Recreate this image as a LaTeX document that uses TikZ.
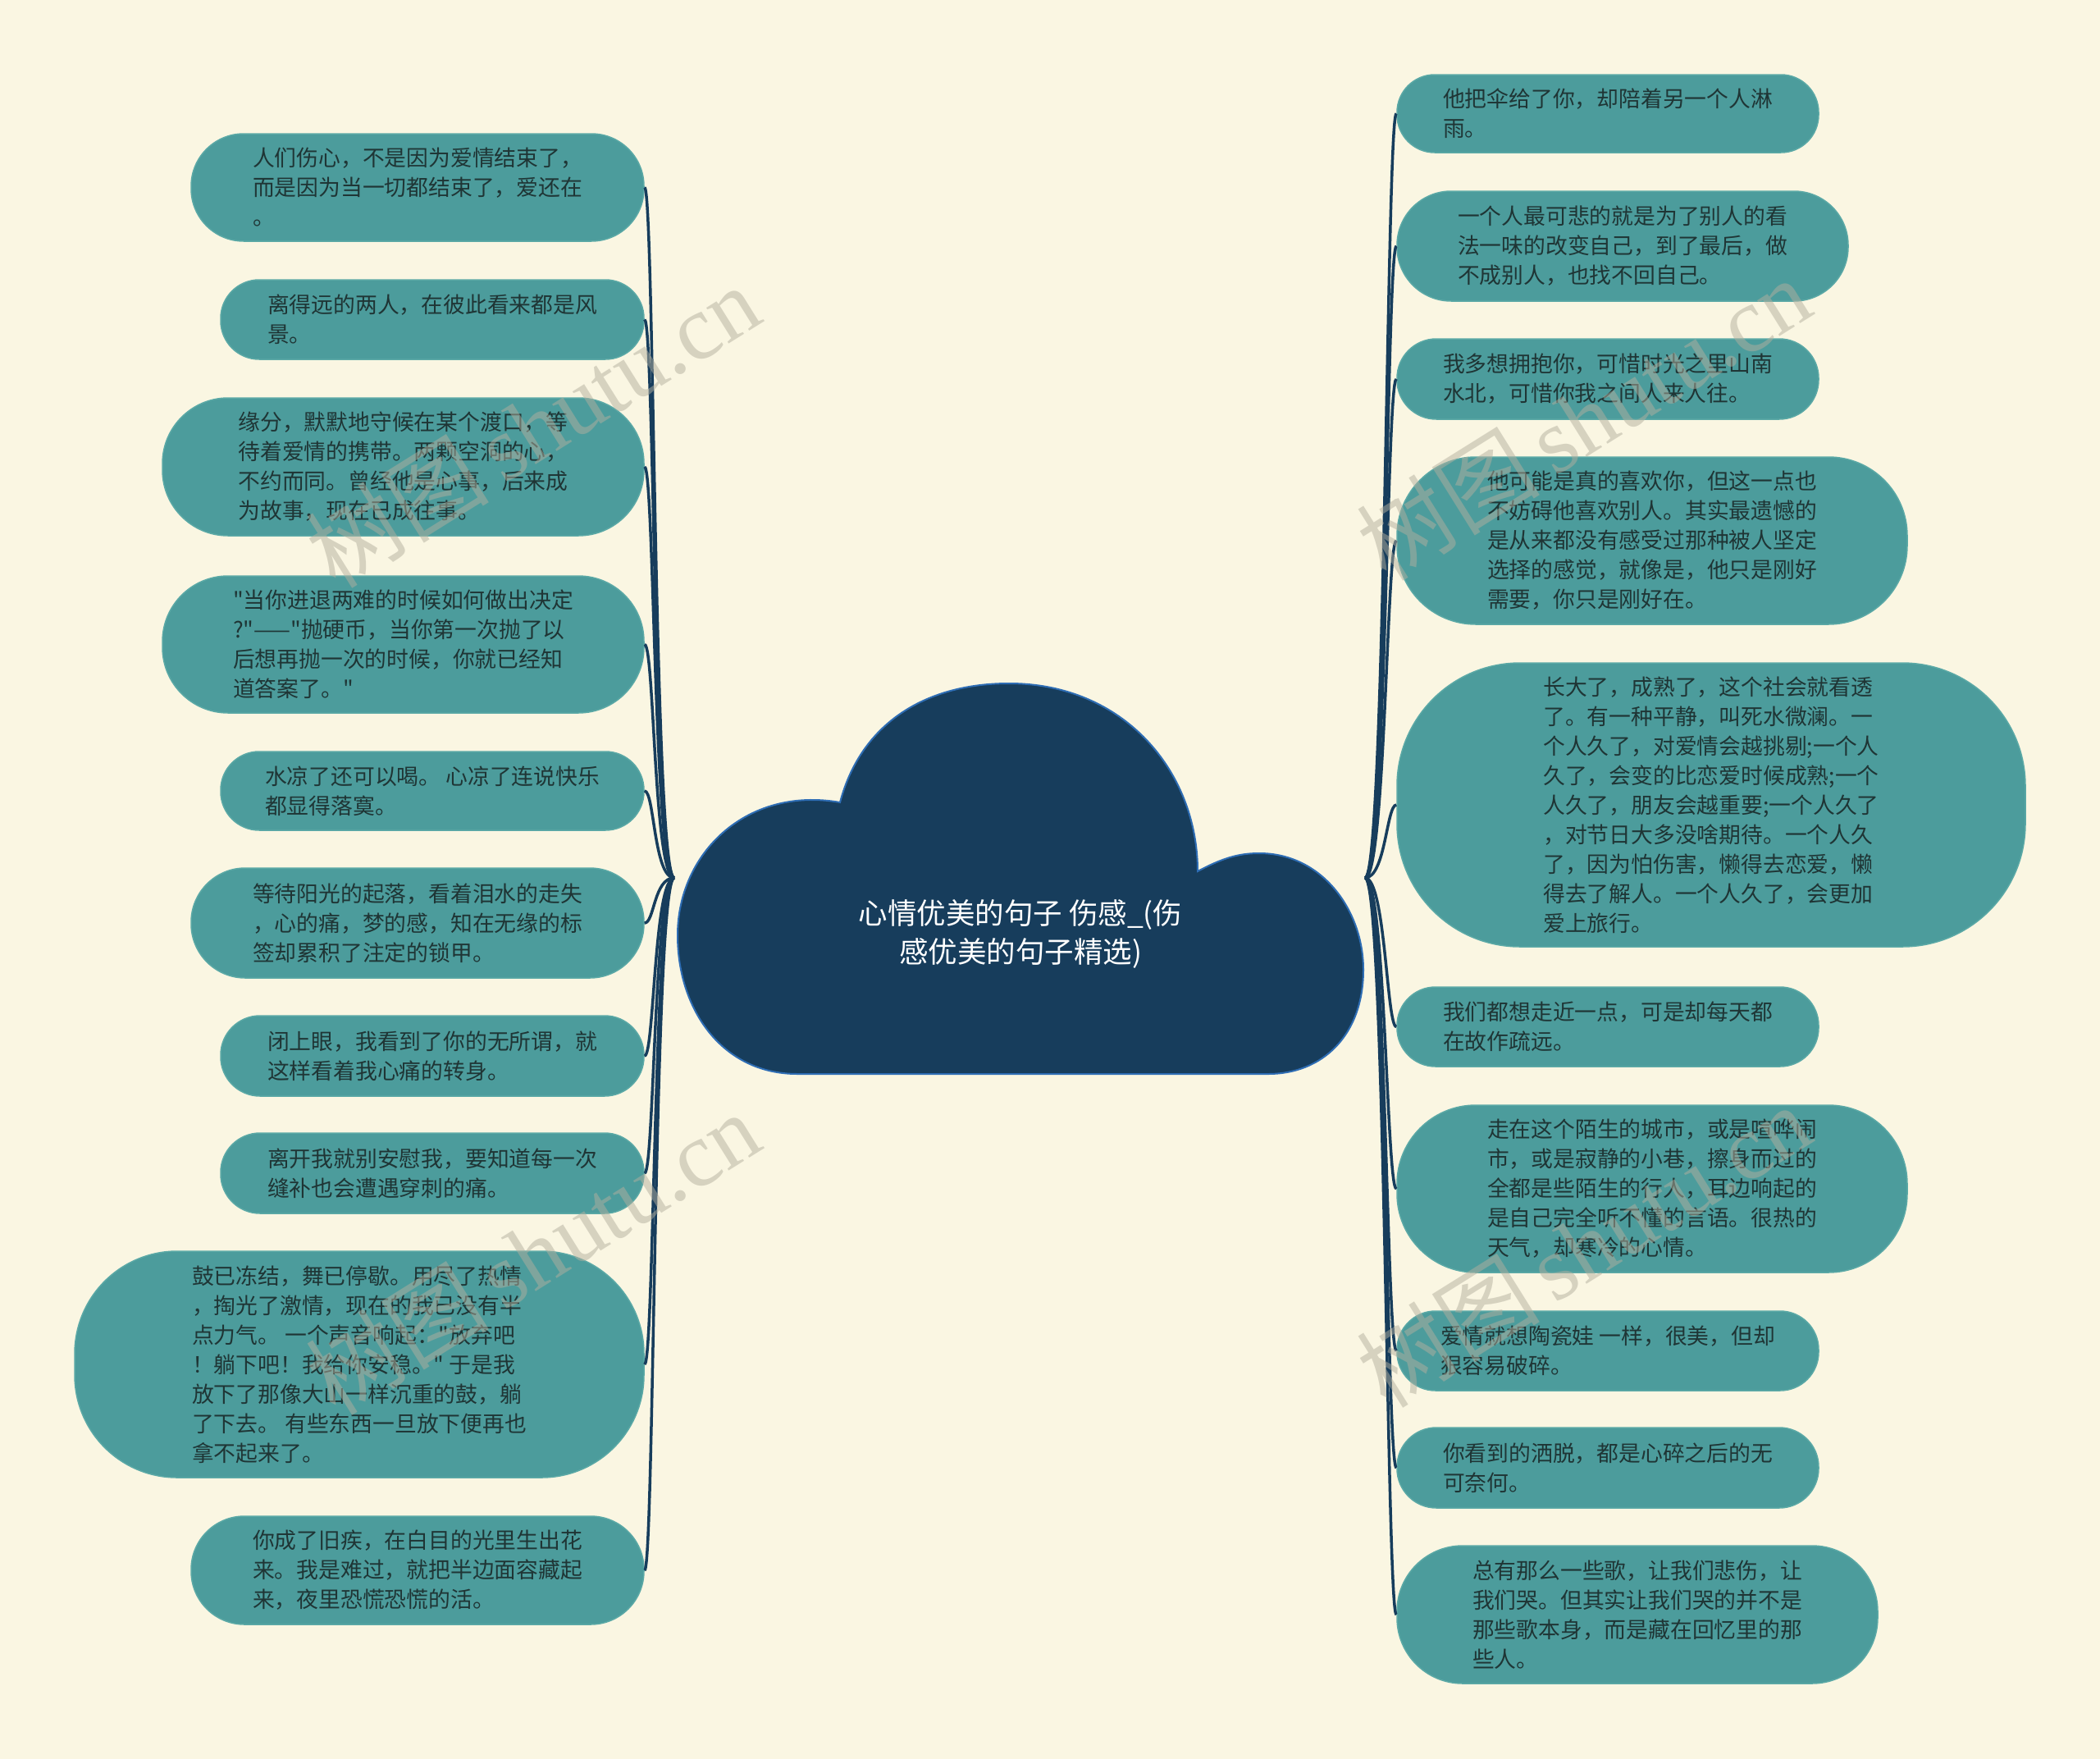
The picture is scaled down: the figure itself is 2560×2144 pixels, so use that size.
\documentclass[tikz,border=0pt]{standalone}
\usepackage{fontspec}
\newfontfamily\cjk{Noto Sans CJK SC}
\newfontfamily\wmserif{Liberation Serif}
\usetikzlibrary{calc}
\definecolor{bgc}{HTML}{FAF6E2}
\definecolor{leaffill}{HTML}{4C9C9C}
\definecolor{leafedge}{HTML}{5BA9A6}
\definecolor{leaftext}{HTML}{1F3535}
\definecolor{cloudfill}{HTML}{173D5C}
\definecolor{cloudedge}{HTML}{2E6DB4}
\definecolor{linkc}{HTML}{173D5C}
\definecolor{wmc}{HTML}{B3AF9E}
\begin{document}
\begin{tikzpicture}[x=1pt,y=-1pt,
  leaf/.style={fill=leaffill, draw=leafedge, line width=1.5pt, text=leaftext,
    font=\cjk\fontsize{26.8}{36}\selectfont, align=left, inner sep=0pt},
  link/.style={draw=linkc, line width=3.5pt},
  wmark/.style={text=wmc, text opacity=0.5, rotate=32, inner sep=0pt,
    font=\cjk\fontsize{112}{112}\selectfont}]
\fill[bgc] (0,0) rectangle (2560,2144);
\useasboundingbox (0,0) rectangle (2560,2144);

% central cloud
\path[fill=cloudfill, draw=cloudedge, line width=2pt]
  (972,1309) .. controls (880,1309) and (826,1230) .. (826,1140)
  .. controls (826,1040) and (910,958) .. (1024,978)
  .. controls (1050,880) and (1130,833) .. (1230,833)
  .. controls (1370,833) and (1460,940) .. (1460,1062)
  .. controls (1490,1046) and (1510,1040) .. (1535,1040)
  .. controls (1612,1040) and (1662,1110) .. (1662,1182)
  .. controls (1662,1262) and (1612,1309) .. (1546,1309) -- cycle;
\node[text=white, font=\cjk\fontsize{35.5}{47}\selectfont, align=center, inner sep=0pt]
  (root) at (1244,1138) {心情优美的句子 伤感\_(伤\\感优美的句子精选)};
\coordinate (lhub) at (822,1070);
\coordinate (rhub) at (1664,1070);

% left leaves
\node[leaf, minimum width=552, minimum height=131, rounded corners=64] (L1) at (509,228.5)
  {人们伤心，不是因为爱情结束了，\\而是因为当一切都结束了，爱还在\\。};
\node[leaf, minimum width=516, minimum height=97, rounded corners=47] (L2) at (527,389.5)
  {离得远的两人，在彼此看来都是风\\景。};
\node[leaf, minimum width=587, minimum height=168, rounded corners=80] (L3) at (491.5,569)
  {缘分，默默地守候在某个渡口，等\\待着爱情的携带。两颗空洞的心，\\不约而同。曾经他是心事，后来成\\为故事，现在已成往事。};
\node[leaf, minimum width=587, minimum height=167, rounded corners=80] (L4) at (491.5,785.5)
  {"当你进退两难的时候如何做出决定\\?"——"抛硬币，当你第一次抛了以\\后想再抛一次的时候，你就已经知\\道答案了。"};
\node[leaf, minimum width=516, minimum height=96, rounded corners=47] (L5) at (527,964)
  {水凉了还可以喝。 心凉了连说快乐\\都显得落寞。};
\node[leaf, minimum width=552, minimum height=134, rounded corners=66] (L6) at (509,1125)
  {等待阳光的起落，看着泪水的走失\\，心的痛，梦的感，知在无缘的标\\签却累积了注定的锁甲。};
\node[leaf, minimum width=516, minimum height=98, rounded corners=48] (L7) at (527,1287)
  {闭上眼，我看到了你的无所谓，就\\这样看着我心痛的转身。};
\node[leaf, minimum width=516, minimum height=98, rounded corners=48] (L8) at (527,1430)
  {离开我就别安慰我，要知道每一次\\缝补也会遭遇穿刺的痛。};
\node[leaf, minimum width=694, minimum height=276, rounded corners=125] (L9) at (438,1663)
  {鼓已冻结，舞已停歇。用尽了热情\\，掏光了激情，现在的我已没有半\\点力气。 一个声音响起："放弃吧\\！躺下吧！我给你安稳。" 于是我\\放下了那像大山一样沉重的鼓，躺\\了下去。 有些东西一旦放下便再也\\拿不起来了。};
\node[leaf, minimum width=552, minimum height=132, rounded corners=65] (L10) at (509,1914)
  {你成了旧疾，在白目的光里生出花\\来。我是难过，就把半边面容藏起\\来，夜里恐慌恐慌的活。};

% right leaves
\node[leaf, minimum width=514, minimum height=95, rounded corners=46] (R1) at (1960,138.5)
  {他把伞给了你，却陪着另一个人淋\\雨。};
\node[leaf, minimum width=550, minimum height=134, rounded corners=66] (R2) at (1978,300)
  {一个人最可悲的就是为了别人的看\\法一味的改变自己，到了最后，做\\不成别人，也找不回自己。};
\node[leaf, minimum width=514, minimum height=98, rounded corners=48] (R3) at (1960,462)
  {我多想拥抱你，可惜时光之里山南\\水北，可惜你我之间人来人往。};
\node[leaf, minimum width=622, minimum height=204, rounded corners=96] (R4) at (2014,659)
  {他可能是真的喜欢你，但这一点也\\不妨碍他喜欢别人。其实最遗憾的\\是从来都没有感受过那种被人坚定\\选择的感觉，就像是，他只是刚好\\需要，你只是刚好在。};
\node[leaf, minimum width=766, minimum height=346, rounded corners=150] (R5) at (2086,981)
  {长大了，成熟了，这个社会就看透\\了。有一种平静，叫死水微澜。一\\个人久了，对爱情会越挑剔;一个人\\久了，会变的比恋爱时候成熟;一个\\人久了，朋友会越重要;一个人久了\\，对节日大多没啥期待。一个人久\\了，因为怕伤害，懒得去恋爱，懒\\得去了解人。一个人久了，会更加\\爱上旅行。};
\node[leaf, minimum width=514, minimum height=97, rounded corners=47] (R6) at (1960,1251.5)
  {我们都想走近一点，可是却每天都\\在故作疏远。};
\node[leaf, minimum width=622, minimum height=204, rounded corners=96] (R7) at (2014,1449)
  {走在这个陌生的城市，或是喧哗闹\\市，或是寂静的小巷，擦身而过的\\全都是些陌生的行人，耳边响起的\\是自己完全听不懂的言语。很热的\\天气，却寒冷的心情。};
\node[leaf, minimum width=514, minimum height=97, rounded corners=47] (R8) at (1960,1646.5)
  {爱情就想陶瓷娃 一样，很美，但却\\狠容易破碎。};
\node[leaf, minimum width=514, minimum height=98, rounded corners=48] (R9) at (1960,1789)
  {你看到的洒脱，都是心碎之后的无\\可奈何。};
\node[leaf, minimum width=586, minimum height=168, rounded corners=80] (R10) at (1996,1968)
  {总有那么一些歌，让我们悲伤，让\\我们哭。但其实让我们哭的并不是\\那些歌本身，而是藏在回忆里的那\\些人。};

% connectors
\foreach \n in {1,...,10} {
  \draw[link] (lhub) .. controls ($(lhub)+(-25,0)$) and ($(L\n.east)+(12,0)$) .. (L\n.east);
  \draw[link] (rhub) .. controls ($(rhub)+(25,0)$) and ($(R\n.west)+(-12,0)$) .. (R\n.west);
}

% watermarks
\node[wmark] (wm1) at (649,519) {树图\,{\wmserif shutu.cn}};
\node[wmark] (wm2) at (649,1527) {树图\,{\wmserif shutu.cn}};
\node[wmark] (wm3) at (1930,510) {树图\,{\wmserif shutu.cn}};
\node[wmark] (wm4) at (1930,1518) {树图\,{\wmserif shutu.cn}};
\end{tikzpicture}
\end{document}
